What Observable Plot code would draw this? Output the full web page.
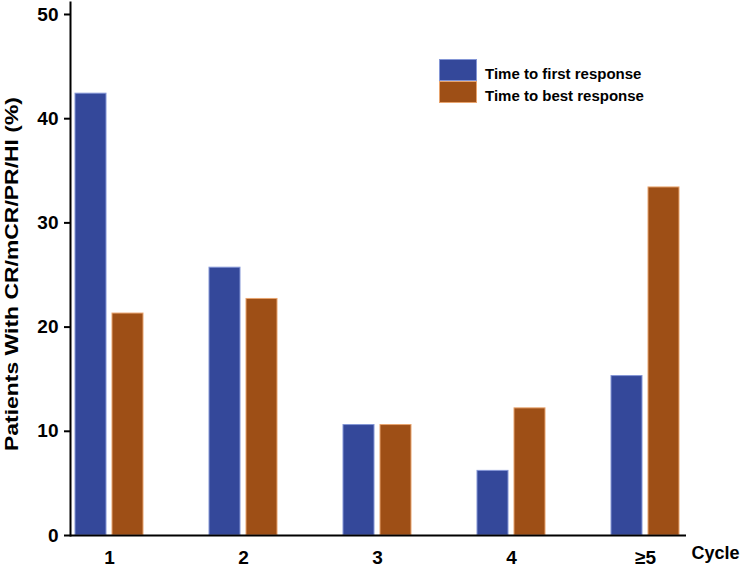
<!DOCTYPE html>
<html>
<head>
<meta charset="utf-8">
<script src="https://cdn.jsdelivr.net/npm/d3@7"></script>
<script src="https://cdn.jsdelivr.net/npm/@observablehq/plot@0.6"></script>
<style>
  html, body { margin: 0; padding: 0; background: #fff; }
  #wrap { position: relative; width: 740px; height: 570px; font-family: "Liberation Sans", Arial, sans-serif; }
  #legend { position: absolute; left: 439px; top: 59px; }
  .row { display: flex; height: 22px; }
  .sw { width: 38px; height: 22px; box-sizing: border-box; }
  .lab { font-size: 15px; font-weight: bold; line-height: 22px; margin-left: 8px; position: relative; top: 4px; color: #000; white-space: nowrap; }
</style>
</head>
<body>
<div id="wrap"></div>
<script>
const cycles = ["1", "2", "3", "4", "≥5"];
const firstResponse = [42.4, 25.7, 10.6, 6.2, 15.3];
const bestResponse = [21.3, 22.7, 10.6, 12.2, 33.4];
const seriesNames = ["Time to first response", "Time to best response"];
const seriesColors = ["#34489a", "#9e4f16"];
const seriesEdges = ["#8496d6", "#e8a46e"];
const yTicks = [0, 10, 20, 30, 40, 50];
const yTitle = "Patients With CR/mCR/PR/HI (%)";
const xTitle = "Cycle";

const firstData = cycles.map((c, i) => ({cycle: c, value: firstResponse[i]}));
const bestData = cycles.map((c, i) => ({cycle: c, value: bestResponse[i]}));

const font = "Liberation Sans, Arial, sans-serif";

const chart = Plot.plot({
  width: 740,
  height: 570,
  marginLeft: 70,
  marginRight: 54,
  marginTop: 2,
  marginBottom: 35,
  style: {fontFamily: font, background: "white", color: "black"},
  x: {domain: cycles, range: [73, 681], paddingInner: 0.495, paddingOuter: 0, axis: null},
  y: {domain: [0, 51.15], axis: null},
  marks: [
    Plot.barY(firstData, {x: "cycle", y: "value", fill: seriesColors[0], stroke: seriesEdges[0], strokeWidth: 1, insetRight: 37}),
    Plot.barY(bestData, {x: "cycle", y: "value", fill: seriesColors[1], stroke: seriesEdges[1], strokeWidth: 1, insetLeft: 37}),
    Plot.ruleY([0], {stroke: "black", strokeWidth: 2}),
    Plot.frame({anchor: "left", stroke: "black", strokeWidth: 2}),
    Plot.axisY({ticks: yTicks, tickSize: 6, tickPadding: 6, fontSize: 19, fontWeight: "bold", label: null, strokeWidth: 2, fontFamily: font}),
    Plot.axisX({tickSize: 0, tickPadding: 15, fontSize: 19, fontWeight: "bold", label: null, fontFamily: font}),
    Plot.text([xTitle], {frameAnchor: "bottom-right", dx: 53, dy: 23, textAnchor: "end", fontSize: 18, fontWeight: "bold", fontFamily: font}),
    Plot.text([yTitle], {frameAnchor: "left", dx: -59, dy: 5, rotate: -90, textAnchor: "middle", lineAnchor: "middle", fontSize: 19, fontWeight: "bold", fontFamily: font, className: "ytitle"})
  ]
});

// stretch the rotated title along its length, as in the reference
d3.select(chart).selectAll(".ytitle text").attr("textLength", 354).attr("lengthAdjust", "spacingAndGlyphs");

const wrap = document.getElementById("wrap");
wrap.appendChild(chart);

const legend = d3.select(wrap).append("div").attr("id", "legend");
seriesNames.forEach((name, i) => {
  const row = legend.append("div").attr("class", "row");
  row.append("div").attr("class", "sw").style("background", seriesColors[i]).style("border", "1px solid " + seriesEdges[i]);
  row.append("div").attr("class", "lab").text(name);
});
</script>
</body>
</html>
